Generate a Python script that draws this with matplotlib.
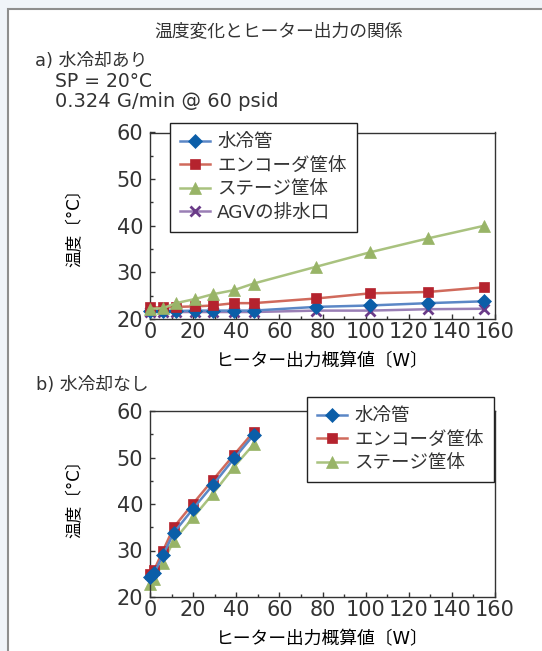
import matplotlib
matplotlib.use("Agg")
import matplotlib.pyplot as plt
from matplotlib.patches import Rectangle
from matplotlib.ticker import MultipleLocator

plt.rcParams["font.family"] = ["DejaVu Sans", "Noto Sans CJK JP"]
plt.rcParams["text.color"] = "#333333"

# a) 水冷却あり
x_a = [0, 6, 12, 21, 29, 39, 48, 77, 102, 129, 155]
pipe_a = [21.8, 21.8, 21.7, 21.8, 21.8, 21.8, 21.8, 22.6, 22.9, 23.4, 23.8]
encoder_a = [22.5, 22.5, 22.6, 22.7, 22.9, 23.4, 23.4, 24.4, 25.5, 25.8, 26.8]
stage_a = [22.2, 22.3, 23.4, 24.3, 25.3, 26.2, 27.6, 31.2, 34.3, 37.3, 40.0]
agv_a = [21.5, 21.5, 21.5, 21.5, 21.5, 21.5, 21.5, 21.8, 21.8, 22.1, 22.2]

# b) 水冷却なし
x_b = [0, 2, 6, 11, 20, 29, 39, 48]
pipe_b = [24.4, 25.2, 29.0, 33.8, 39.0, 44.0, 49.8, 54.8]
encoder_b = [24.9, 25.9, 29.9, 35.0, 40.1, 45.1, 50.6, 55.5]
stage_b = [22.8, 23.8, 27.4, 32.1, 37.1, 42.1, 48.0, 52.8]

labels = ["水冷管", "エンコーダ筐体", "ステージ筐体", "AGVの排水口"]
# (line color, marker color, marker, size)
styles = [
    ("#5b87c6", "#0b5ea8", "D", 7),
    ("#d06a5c", "#b5232e", "s", 7.5),
    ("#a9c27f", "#98b467", "^", 9),
    ("#9a7fb5", "#6a3b88", "x", 7),
]

W, H = 542, 651
fig = plt.figure(figsize=(W / 100, H / 100), dpi=100)
fig.patch.set_facecolor("#f0f4f9")

# white panel with grey border
fig.patches.append(Rectangle((8 / W, -0.05), 1.1, 1 - 9 / H + 0.05,
                             transform=fig.transFigure, facecolor="white",
                             edgecolor="#8e8e8e", linewidth=1.5, zorder=-5))

fig.text(279 / W, 1 - 36 / H, "温度変化とヒーター出力の関係", ha="center",
         va="baseline", fontsize=12.8)
fig.text(35 / W, 1 - 66 / H, "a) 水冷却あり", ha="left", va="baseline", fontsize=12.8)
fig.text(55 / W, 1 - 87 / H, "SP = 20°C", ha="left", va="baseline", fontsize=13.5)
fig.text(55 / W, 1 - 107 / H, "0.324 G/min @ 60 psid", ha="left", va="baseline",
         fontsize=14)
fig.text(36 / W, 1 - 390 / H, "b) 水冷却なし", ha="left", va="baseline", fontsize=12.8)

ax_a = fig.add_axes([150 / W, 1 - 319 / H, 345 / W, 186.5 / H])
ax_b = fig.add_axes([150 / W, 1 - 597 / H, 345 / W, 186 / H])


def style_axes(ax, ylab_y):
    ax.set_xlim(0, 160)
    ax.set_ylim(20, 60)
    ax.xaxis.set_major_locator(MultipleLocator(20))
    ax.xaxis.set_minor_locator(MultipleLocator(10))
    ax.yaxis.set_major_locator(MultipleLocator(10))
    ax.yaxis.set_minor_locator(MultipleLocator(5))
    ax.tick_params(which="both", direction="in", colors="#333333",
                   labelsize=15, width=1)
    ax.tick_params(which="major", length=3.6)
    ax.tick_params(which="minor", length=2.2)
    ax.tick_params(axis="x", pad=2)
    ax.tick_params(axis="y", pad=5)
    for s in ax.spines.values():
        s.set_color("#333333")
        s.set_linewidth(1)
    ax.set_xlabel("ヒーター出力概算値〔W〕", fontsize=12.8)
    ax.xaxis.label.set_va("center")
    ax.xaxis.set_label_coords(0.5, -0.225)
    ax.set_ylabel("温度〔°C〕", fontsize=12)
    ax.yaxis.label.set_va("center")
    ax.yaxis.set_label_coords(-0.22, ylab_y)


style_axes(ax_a, 0.51)
style_axes(ax_b, 0.55)

series_a = [pipe_a, encoder_a, stage_a, agv_a]
zorder_a = [3, 4, 5, 2]
for ys, lab, (lc, mc, mk, ms), z in zip(series_a, labels, styles, zorder_a):
    mew = 2 if mk == "x" else 0.5
    ax_a.plot(x_a, ys, color=lc, lw=1.8, marker=mk, ms=ms, mfc=mc, mec=mc,
              mew=mew, label=lab, zorder=z, clip_on=False)

series_b = [pipe_b, encoder_b, stage_b]
zorder_b = [4, 3, 2]
for ys, lab, (lc, mc, mk, ms), z in zip(series_b, labels[:3], styles[:3], zorder_b):
    ax_b.plot(x_b, ys, color=lc, lw=1.8, marker=mk, ms=ms, mfc=mc, mec=mc,
              mew=0.5, label=lab, zorder=z, clip_on=False)

leg_kw = dict(fontsize=13.3, frameon=True, fancybox=False, edgecolor="#222222",
              framealpha=1, borderaxespad=0, handlelength=1.6,
              handletextpad=0.4, labelspacing=0.3, borderpad=0.55)
leg_a = ax_a.legend(loc="upper left", bbox_to_anchor=(170 / W, 1 - 123 / H),
                    bbox_transform=fig.transFigure, **leg_kw)
leg_b = ax_b.legend(loc="upper right", bbox_to_anchor=(494 / W, 1 - 397 / H),
                    bbox_transform=fig.transFigure, **leg_kw)
for leg in (leg_a, leg_b):
    leg.get_frame().set_linewidth(1)
    leg.set_zorder(10)

fig.savefig("out.png", dpi=100, facecolor=fig.get_facecolor())
